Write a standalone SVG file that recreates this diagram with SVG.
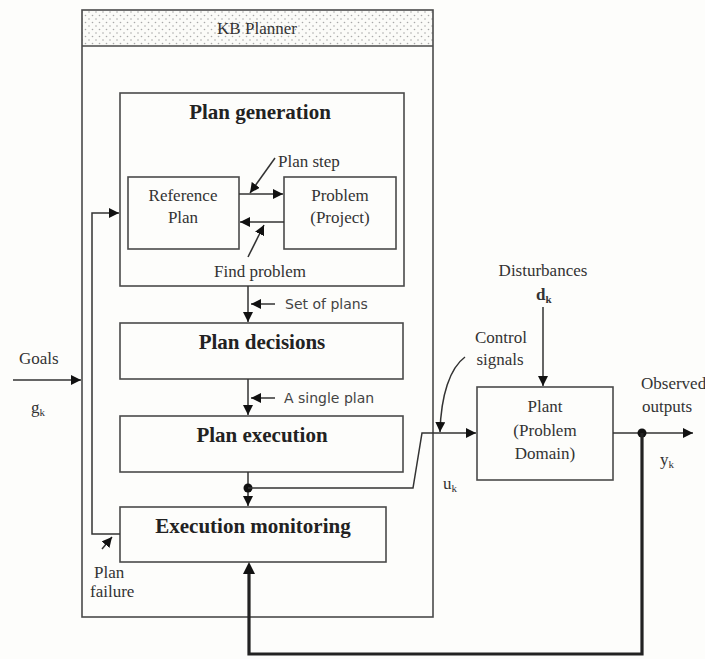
<svg xmlns="http://www.w3.org/2000/svg" width="705" height="659" viewBox="0 0 705 659">
<style>
.box{fill:none;stroke:#4a4a4a;stroke-width:1.6}
.ln{fill:none;stroke:#333;stroke-width:1.5}
.thick{fill:none;stroke:#222;stroke-width:3.2}
.t{font-family:"Liberation Serif",serif;fill:#333;font-size:17px}
.tb{font-family:"Liberation Serif",serif;fill:#222;font-size:21px;font-weight:bold;text-anchor:middle}
.ts{font-family:"DejaVu Sans","Liberation Sans",sans-serif;fill:#444;font-size:14px}
</style>
<defs>
<pattern id="dots" width="7" height="7" patternUnits="userSpaceOnUse">
<rect width="7" height="7" fill="#fbfbf8"/>
<circle cx="1.5" cy="1.5" r="0.8" fill="#a9a9a9"/>
<circle cx="5" cy="5" r="0.8" fill="#a9a9a9"/>
</pattern>
<marker id="ah" viewBox="0 0 10 10" refX="10" refY="5" markerWidth="10" markerHeight="10" markerUnits="userSpaceOnUse" orient="auto">
<path d="M0,0 L10,5 L0,10 z" fill="#111"/>
</marker>
</defs>
<rect width="705" height="659" fill="#fdfdfb"/>

<g id="kb-planner">
<rect x="82" y="10" width="351" height="36" fill="url(#dots)" stroke="none"/>
<rect class="box" x="82" y="10" width="351" height="607"/>
<line class="box" x1="82" y1="46" x2="433" y2="46"/>
<text class="t" x="257" y="34" text-anchor="middle">KB Planner</text>
</g>

<g id="plan-generation">
<rect class="box" x="120" y="93" width="284" height="193"/>
<text class="tb" x="260" y="119">Plan generation</text>
</g>

<g id="reference-plan">
<rect class="box" x="128" y="177" width="111" height="72"/>
<text class="t" x="183" y="201" text-anchor="middle">Reference</text>
<text class="t" x="183" y="223" text-anchor="middle">Plan</text>
</g>

<g id="problem">
<rect class="box" x="284" y="177" width="112" height="72"/>
<text class="t" x="340" y="201" text-anchor="middle">Problem</text>
<text class="t" x="340" y="223" text-anchor="middle">(Project)</text>
</g>

<g id="plan-decisions">
<rect class="box" x="120" y="323" width="283" height="56"/>
<text class="tb" x="262" y="349">Plan decisions</text>
</g>

<g id="plan-execution">
<rect class="box" x="120" y="416" width="283" height="56"/>
<text class="tb" x="262" y="442">Plan execution</text>
</g>

<g id="execution-monitoring">
<rect class="box" x="120" y="507" width="266" height="55"/>
<text class="tb" x="253" y="533">Execution monitoring</text>
</g>

<g id="plant">
<rect class="box" x="477" y="387" width="136" height="93"/>
<text class="t" x="545" y="412" text-anchor="middle">Plant</text>
<text class="t" x="545" y="436" text-anchor="middle">(Problem</text>
<text class="t" x="545" y="459" text-anchor="middle">Domain)</text>
</g>

<g id="connectors">
<line class="ln" x1="239" y1="194" x2="283" y2="194" marker-end="url(#ah)"/>
<line class="ln" x1="284" y1="222" x2="240" y2="222" marker-end="url(#ah)"/>
<line class="ln" x1="275" y1="158" x2="250" y2="193" marker-end="url(#ah)"/>
<line class="ln" x1="248" y1="257" x2="264" y2="225" marker-end="url(#ah)"/>
<line class="ln" x1="248" y1="286" x2="248" y2="322" marker-end="url(#ah)"/>
<line class="ln" x1="275" y1="304" x2="251" y2="304" marker-end="url(#ah)"/>
<line class="ln" x1="248" y1="379" x2="248" y2="415" marker-end="url(#ah)"/>
<line class="ln" x1="275" y1="398" x2="251" y2="398" marker-end="url(#ah)"/>
<line class="ln" x1="248" y1="472" x2="248" y2="506" marker-end="url(#ah)"/>
<circle cx="248" cy="488" r="4.5" fill="#111"/>
<polyline class="ln" points="248,488 413,488 422,433 476,433" marker-end="url(#ah)"/>
<path class="ln" d="M465,357 C450,368 441,395 440,432" marker-end="url(#ah)"/>
<line class="ln" x1="543" y1="307" x2="543" y2="386" marker-end="url(#ah)"/>
<line class="ln" x1="613" y1="433" x2="693" y2="433" marker-end="url(#ah)"/>
<circle cx="642" cy="433" r="4.5" fill="#111"/>
<polyline class="thick" points="642,433 642,654 249,654 249,573"/>
<path d="M243,574 L249,562 L255,574 z" fill="#111"/>
<line class="ln" x1="13" y1="380" x2="81" y2="380" marker-end="url(#ah)"/>
<polyline class="ln" points="120,534 92,534 92,213 119,213" marker-end="url(#ah)"/>
<line class="ln" x1="102" y1="549" x2="112" y2="537" marker-end="url(#ah)"/>
</g>

<g id="labels">
<text class="t" x="278" y="167" font-size="18">Plan step</text>
<text class="t" x="260" y="277" text-anchor="middle" font-size="18.5">Find problem</text>
<text class="ts" x="285" y="309">Set of plans</text>
<text class="ts" x="284" y="403">A single plan</text>
<text class="t" x="19" y="364">Goals</text>
<text class="t" x="31" y="413" font-size="15">g<tspan font-size="11" dy="3">k</tspan></text>
<text class="t" x="94" y="578" font-size="13">Plan</text>
<text class="t" x="90" y="597" font-size="13">failure</text>
<text class="t" x="543" y="276" text-anchor="middle" font-size="15.5">Disturbances</text>
<text class="t" x="536" y="300" font-size="17" font-weight="bold">d<tspan font-size="11" dy="3">k</tspan></text>
<text class="t" x="501" y="343" text-anchor="middle" font-size="17.5">Control</text>
<text class="t" x="500" y="365" text-anchor="middle" font-size="17.5">signals</text>
<text class="t" x="443" y="489" font-size="15">u<tspan font-size="11" dy="3">k</tspan></text>
<text class="t" x="641" y="389" font-size="14.5">Observed</text>
<text class="t" x="642" y="412" font-size="14.5">outputs</text>
<text class="t" x="660" y="465" font-size="18">y<tspan font-size="11" dy="3">k</tspan></text>
</g>
</svg>
